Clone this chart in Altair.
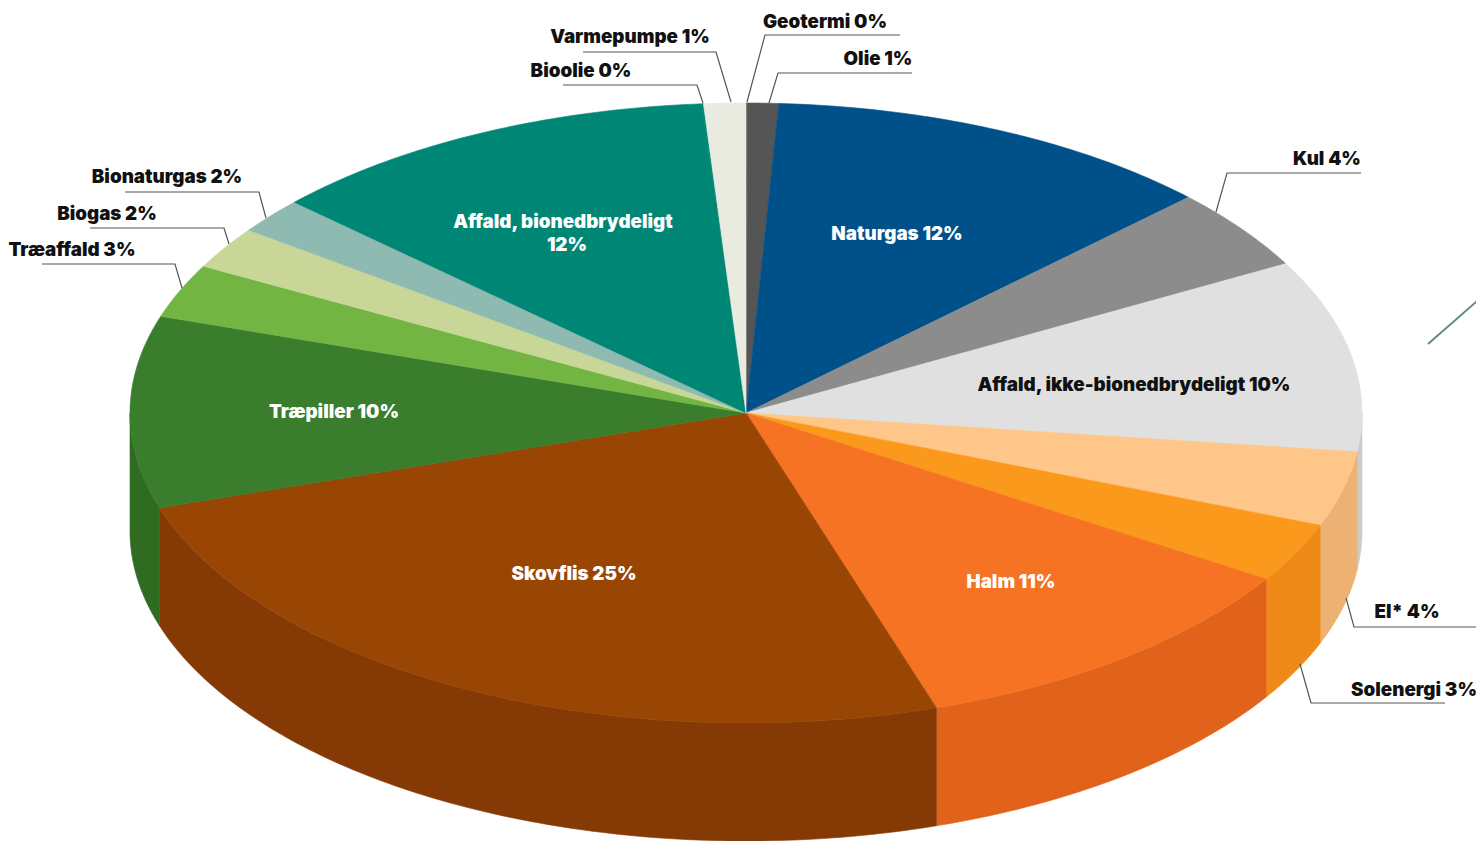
import math
import altair as alt
import pandas as pd

# ---- values (clockwise from 12 o'clock) ----
sources = ["Geotermi", "Olie", "Naturgas", "Kul", "Affald, ikke-bionedbrydeligt", "El*", "Solenergi",
           "Halm", "Skovflis", "Træpiller", "Træaffald", "Biogas", "Bionaturgas",
           "Affald, bionedbrydeligt", "Bioolie", "Varmepumpe"]
drawn_shares = [0.05, 0.8, 11.9, 4.25, 10.0, 3.9, 3.1, 11.0, 25.05, 10.0, 2.8, 2.2, 1.85, 11.95, 0.05, 1.1]
top_colors = ["#555555", "#555555", "#00518A", "#8C8C8C", "#E0E0E0", "#FEC688", "#FB991D", "#F57322",
              "#994605", "#3A7D2D", "#72B543", "#C8D798", "#8FBAB2", "#008675", "#008675", "#E9EBE0"]
side_colors = ["#444444", "#444444", "#00426F", "#777777", "#C9CACB", "#EDB273", "#EF8917", "#E1621B",
               "#853A05", "#2F6B20", "#5F9A36", "#AEBD80", "#7AA39B", "#006F60", "#006F60", "#C9CBC0"]

label_texts = ["Geotermi 0%", "Varmepumpe 1%", "Bioolie 0%", "Olie 1%", "Kul 4%",
               "Affald, ikke-bionedbrydeligt 10%", "El* 4%", "Solenergi 3%", "Bionaturgas 2%", "Biogas 2%",
               "Træaffald 3%", "Naturgas 12%", "Halm 11%", "Skovflis 25%", "Træpiller 10%",
               "Affald, bionedbrydeligt", "12%"]
label_colors = ["#111111"] * 11 + ["#FFFFFF"] * 6
label_colors[5] = "#111111"
label_x = [825, 630, 581, 878, 1327, 1134, 1407, 1414, 167, 107, 72, 897, 1011, 574, 334, 563, 567]
label_y = [22, 37, 71, 59, 159, 385, 612, 690, 177, 214, 250, 234, 582, 574, 412, 222, 245]

leader_names = ["Geotermi", "Varmepumpe", "Bioolie", "Olie", "Kul", "El", "Solenergi", "Bionaturgas", "Biogas", "Træaffald"]
leader_xs = [[900, 765, 747], [583, 716, 731], [563, 697, 703], [912, 778, 769], [1361, 1227, 1216],
             [1484, 1354, 1346], [1445, 1311, 1300], [125, 259, 266], [90, 224, 229], [42, 175, 182]]
leader_ys = [[35, 35, 102], [52, 52, 102], [85, 85, 103], [73, 73, 103], [173, 173, 212],
             [627, 627, 598], [703, 703, 664], [192, 192, 218], [228, 228, 244], [264, 264, 288]]
accent_x = [1428, 1484]
accent_y = [344, 295]

# ---- pie geometry ----
CX, CY, RX, RY, DEPTH = 746, 413, 616, 310, 118
WIDTH, HEIGHT = 1468, 833


def rim(deg, drop=0.0):
    a = math.radians(deg)
    return CX + RX * math.sin(a), CY - RY * math.cos(a) + drop


def sweep(a0, a1):
    n = max(2, int((a1 - a0) / 0.75) + 1)
    return [a0 + (a1 - a0) * i / (n - 1) for i in range(n)]


total = sum(drawn_shares)
tops, sides = [], []
cum = 0.0
for name, share, tc, sc in zip(sources, drawn_shares, top_colors, side_colors):
    a0 = cum / total * 360
    cum += share
    a1 = cum / total * 360
    pts = [(CX, CY)] + [rim(a) for a in sweep(a0, a1)] + [(CX, CY)]
    for i, (x, y) in enumerate(pts):
        tops.append(dict(slice=name, i=i, x=x, y=y, color=tc))
    lo, hi = max(a0, 90), min(a1, 270)
    if lo < hi:
        arc = sweep(lo, hi)
        pts = [rim(a) for a in arc] + [rim(a, DEPTH) for a in reversed(arc)]
        pts.append(pts[0])
        for i, (x, y) in enumerate(pts):
            sides.append(dict(slice=name, i=i, x=x, y=y, color=sc))

x_scale = alt.Scale(domain=[8, 8 + WIDTH], nice=False, zero=False)
y_scale = alt.Scale(domain=[8 + HEIGHT, 8], nice=False, zero=False)
X = alt.X("x:Q", scale=x_scale, axis=None)
Y = alt.Y("y:Q", scale=y_scale, axis=None)


def faces(rows):
    return alt.Chart(pd.DataFrame(rows)).mark_line(strokeWidth=0.6, clip=True, interpolate="linear").encode(
        x=X, y=Y, order="i:Q", detail="slice:N",
        fill=alt.Fill("color:N", scale=None, legend=None),
        stroke=alt.Stroke("color:N", scale=None, legend=None),
    )


leader_rows = [dict(name=n, i=i, x=x, y=y)
               for n, xs, ys in zip(leader_names, leader_xs, leader_ys)
               for i, (x, y) in enumerate(zip(xs, ys))]
leaders = alt.Chart(pd.DataFrame(leader_rows)).mark_line(color="#555555", strokeWidth=1.2, clip=True).encode(
    x=X, y=Y, order="i:Q", detail="name:N")

accent = alt.Chart(pd.DataFrame({"x": accent_x, "y": accent_y})).mark_line(
    color="#5E8C82", strokeWidth=2, clip=True).encode(x=X, y=Y)

labels = alt.Chart(pd.DataFrame({"t": label_texts, "x": label_x, "y": label_y, "c": label_colors})).mark_text(
    font="Inter", fontWeight=900, fontSize=18.8, align="center", baseline="middle").encode(
    x=X, y=Y, text="t:N", color=alt.Color("c:N", scale=None, legend=None))

chart = alt.layer(faces(sides), faces(tops), leaders, accent, labels).properties(
    width=WIDTH, height=HEIGHT, padding=0, autosize=alt.AutoSizeParams(type="none"),
    background="white",
).configure_view(stroke=None)

chart.save("out.html", embed_options={"renderer": "svg", "actions": False})
